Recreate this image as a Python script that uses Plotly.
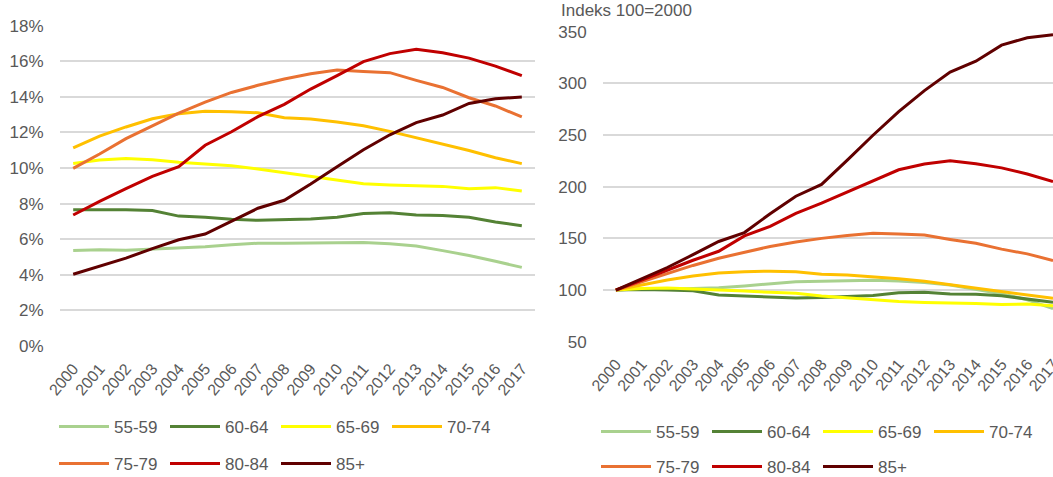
import plotly.graph_objects as go

years = [str(y) for y in range(2000, 2018)]
groups = ["55-59", "60-64", "65-69", "70-74", "75-79", "80-84", "85+"]
colors = ["#A9D18E", "#548235", "#FFFF00", "#FFC000", "#E97132", "#C00000", "#600000"]

# Left chart: share (%)
sh_55_59 = [5.36, 5.41, 5.38, 5.45, 5.49, 5.58, 5.69, 5.78, 5.77, 5.79, 5.82, 5.81, 5.75, 5.62, 5.36, 5.09, 4.76, 4.42]
sh_60_64 = [7.66, 7.68, 7.66, 7.62, 7.30, 7.23, 7.12, 7.06, 7.08, 7.14, 7.23, 7.45, 7.49, 7.36, 7.34, 7.23, 6.97, 6.76]
sh_65_69 = [10.26, 10.45, 10.53, 10.47, 10.32, 10.21, 10.13, 9.95, 9.74, 9.51, 9.31, 9.12, 9.05, 9.03, 8.97, 8.84, 8.90, 8.71]
sh_70_74 = [11.14, 11.80, 12.31, 12.77, 13.05, 13.19, 13.17, 13.11, 12.83, 12.75, 12.59, 12.38, 12.06, 11.71, 11.33, 10.99, 10.58, 10.25]
sh_75_79 = [9.98, 10.79, 11.65, 12.38, 13.09, 13.71, 14.25, 14.65, 15.00, 15.30, 15.51, 15.43, 15.36, 14.93, 14.53, 13.95, 13.49, 12.87]
sh_80_84 = [7.36, 8.13, 8.84, 9.53, 10.08, 11.28, 12.04, 12.89, 13.58, 14.44, 15.19, 15.98, 16.43, 16.67, 16.48, 16.18, 15.73, 15.19]
sh_85 = [4.03, 4.50, 4.94, 5.47, 5.97, 6.29, 7.00, 7.74, 8.19, 9.10, 10.08, 11.03, 11.87, 12.55, 12.98, 13.63, 13.90, 13.99]

# Right chart: index 100 = 2000
idx_55_59 = [100, 101.3, 100.8, 101.6, 102.3, 104.0, 106.0, 108.0, 108.4, 109.0, 109.4, 108.7, 107.4, 104.8, 101.0, 96.5, 90.5, 82.0]
idx_60_64 = [100, 100.4, 100.0, 99.4, 95.2, 94.2, 92.6, 92.2, 92.8, 93.8, 94.8, 97.3, 97.8, 96.1, 95.8, 94.4, 91.0, 88.2]
idx_65_69 = [100, 101.6, 102.0, 101.2, 99.8, 99.0, 97.8, 96.8, 94.2, 92.4, 90.6, 89.0, 88.0, 87.6, 87.0, 86.0, 86.4, 84.8]
idx_70_74 = [100, 105.0, 109.8, 113.6, 116.5, 117.8, 118.2, 117.8, 115.3, 114.5, 112.9, 111.0, 108.5, 105.2, 101.7, 98.6, 95.0, 92.0]
idx_75_79 = [100, 108.0, 116.2, 123.8, 130.8, 136.5, 142.2, 146.4, 150.0, 152.8, 155.0, 154.2, 153.2, 149.0, 145.2, 139.6, 135.0, 128.6]
idx_80_84 = [100, 109.8, 119.6, 128.8, 137.5, 152.4, 161.6, 174.2, 184.0, 195.0, 205.2, 216.4, 222.0, 225.2, 222.3, 218.2, 212.3, 205.0]
idx_85 = [100, 110.8, 121.8, 134.2, 147.0, 155.6, 173.8, 190.8, 202.2, 225.8, 249.8, 272.6, 293.0, 311.0, 321.4, 337.0, 344.2, 347.0]

left_series = [sh_55_59, sh_60_64, sh_65_69, sh_70_74, sh_75_79, sh_80_84, sh_85]
right_series = [idx_55_59, idx_60_64, idx_65_69, idx_70_74, idx_75_79, idx_80_84, idx_85]

left_ticks = list(range(0, 19, 2))
right_ticks = list(range(50, 351, 50))
right_title = "Indeks 100=2000"

W, H = 1053, 477
FONT = "Liberation Sans, Arial, sans-serif"
GRAY = "#595959"
GRID = "#D9D9D9"

fig = go.Figure()
for i, (g, c) in enumerate(zip(groups, colors)):
    fig.add_trace(go.Scatter(
        x=years, y=left_series[i], name=g, mode="lines",
        line=dict(color=c, width=3), xaxis="x", yaxis="y",
        legend="legend" if i < 4 else "legend2",
    ))
for i, (g, c) in enumerate(zip(groups, colors)):
    fig.add_trace(go.Scatter(
        x=years, y=right_series[i], name=g, mode="lines",
        line=dict(color=c, width=3), xaxis="x2", yaxis="y2",
        legend="legend3" if i < 4 else "legend4",
    ))

def px_x(p):
    return p / W

def px_y(p):
    return 1 - p / H

axis_font = dict(family=FONT, size=17, color=GRAY)
xtick_font = dict(family=FONT, size=16, color=GRAY)
xcommon = dict(type="category", tickangle=-50, showgrid=False, zeroline=False,
               showline=False, ticks="outside", ticklen=6, tickcolor="rgba(0,0,0,0)",
               tickfont=xtick_font, automargin=False)
ycommon = dict(type="linear", showgrid=True, gridcolor=GRID, gridwidth=1.5, zeroline=False,
               showline=False, ticks="outside", ticklen=12, tickcolor="rgba(0,0,0,0)",
               tickfont=axis_font, automargin=False, tickmode="array", layer="below traces")

legend_common = dict(orientation="h", xanchor="left", yanchor="middle",
                     xref="paper", yref="paper",
                     font=dict(family=FONT, size=17, color=GRAY),
                     itemwidth=50, entrywidth=46, entrywidthmode="pixels",
                     bgcolor="rgba(0,0,0,0)", traceorder="normal")

fig.update_layout(
    template="none",
    width=W, height=H,
    autosize=False,
    margin=dict(l=0, r=0, t=0, b=0, pad=0, autoexpand=False),
    paper_bgcolor="white", plot_bgcolor="white",
    font=dict(family=FONT, color=GRAY),
    xaxis=dict(domain=[px_x(60), px_x(535)], anchor="y", range=[-0.5, 17.5], **xcommon),
    yaxis=dict(domain=[px_y(346), px_y(25.7)], anchor="x", range=[0, 18],
               tickvals=left_ticks, ticktext=[f"{v}%" for v in left_ticks], **ycommon),
    xaxis2=dict(domain=[px_x(603), 1.0], anchor="y2", range=[-0.5, 17.0], **xcommon),
    yaxis2=dict(domain=[px_y(341.7), px_y(31.7)], anchor="x2", range=[50, 350],
                tickvals=right_ticks, ticktext=[str(v) for v in right_ticks], **ycommon),
    legend=dict(x=px_x(54), y=px_y(427), **legend_common),
    legend2=dict(x=px_x(54), y=px_y(464), **legend_common),
    legend3=dict(x=px_x(596), y=px_y(432), **legend_common),
    legend4=dict(x=px_x(596), y=px_y(467), **legend_common),
    annotations=[dict(text=right_title, x=px_x(559), y=px_y(11), xref="paper", yref="paper",
                      xanchor="left", yanchor="middle", showarrow=False,
                      font=dict(family=FONT, size=17, color=GRAY))],
)

fig.write_html("out.html", config={"displayModeBar": False},
               post_script="document.body.style.margin='0px';")
